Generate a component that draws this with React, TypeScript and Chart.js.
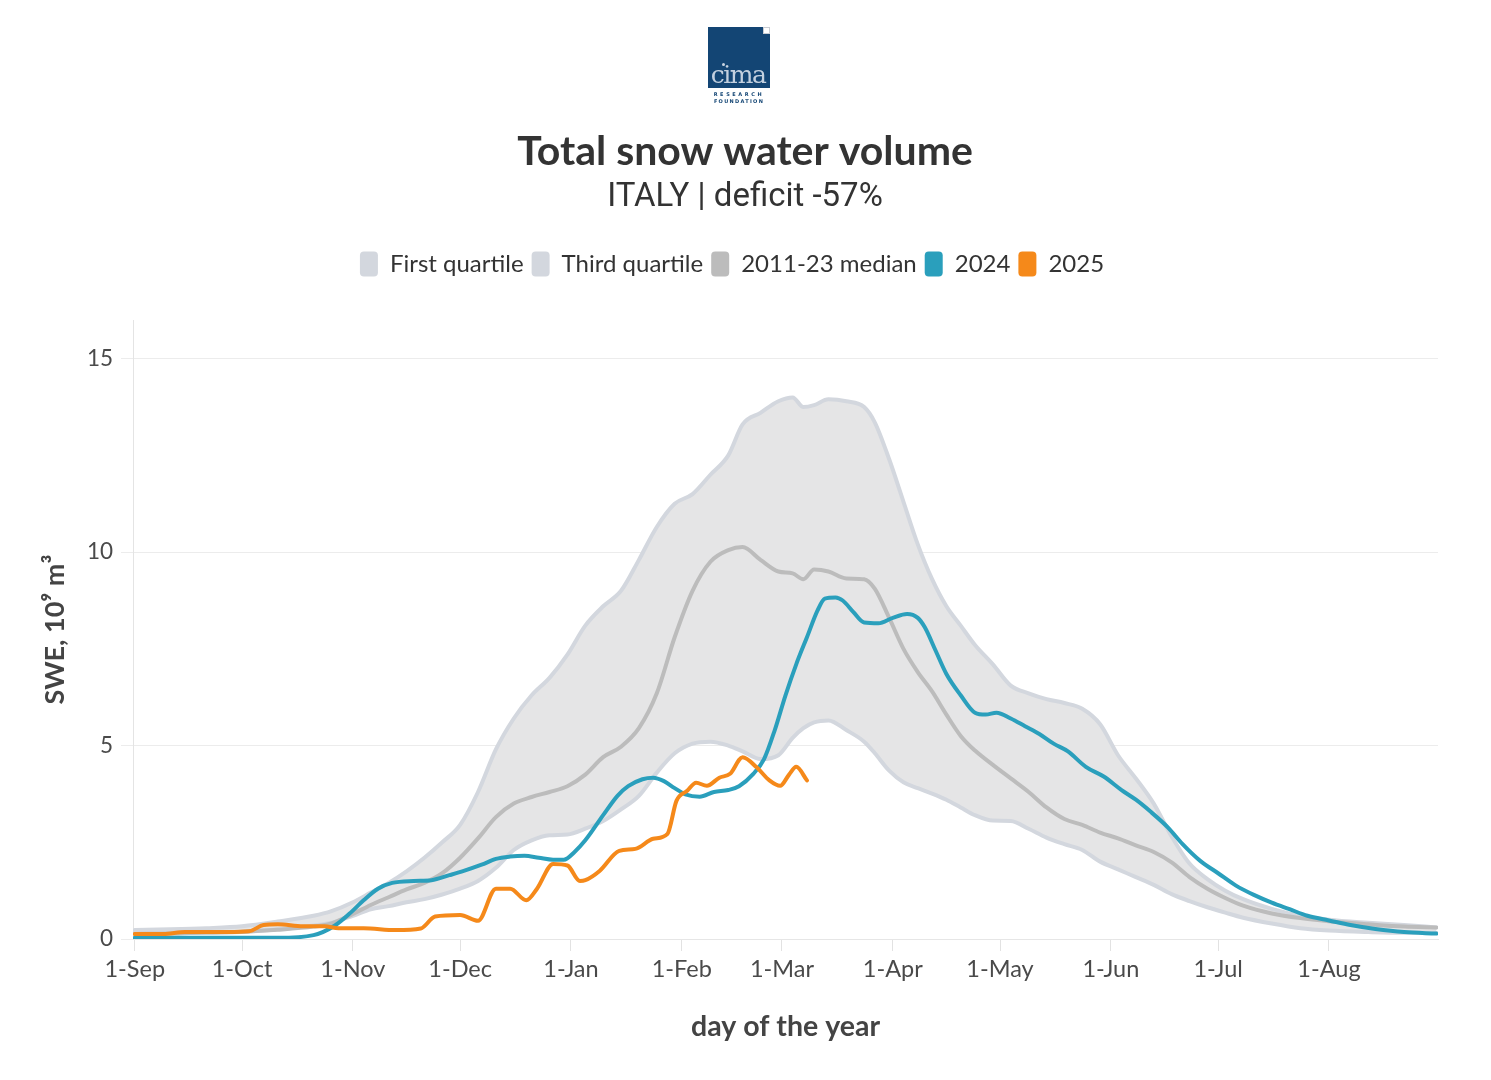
import React, { useEffect, useRef } from "react";
import { Chart, registerables } from "chart.js";

Chart.register(...registerables);

// ---- Data ----
const MONTH_LABELS = ["1-Sep", "1-Oct", "1-Nov", "1-Dec", "1-Jan", "1-Feb", "1-Mar", "1-Apr", "1-May", "1-Jun", "1-Jul", "1-Aug"];
const MONTH_START_DAYS = [0, 30, 61, 91, 122, 153, 181, 212, 242, 273, 303, 334];
const Y_TICKS = [0, 5, 10, 15];

const CLIM_DAYS = [0, 10, 20, 30, 40, 50, 55, 61, 66, 71, 76, 81, 86, 91, 96, 101, 106, 111, 116, 121, 126, 131, 136, 141, 146, 151, 156, 161, 166, 170, 175, 180, 184, 187, 190, 194, 199, 204, 207, 211, 215, 219, 223, 227, 231, 235, 240, 245, 250, 255, 260, 265, 270, 275, 280, 285, 290, 295, 300, 305, 310, 318, 326, 334, 345, 355, 364];

const Q1_VALUES = [0.16, 0.16, 0.16, 0.18, 0.25, 0.35, 0.42, 0.6, 0.77, 0.85, 0.95, 1.03, 1.15, 1.3, 1.5, 1.84, 2.3, 2.55, 2.68, 2.7, 2.85, 3.05, 3.35, 3.7, 4.3, 4.8, 5.05, 5.1, 5.0, 4.85, 4.65, 4.75, 5.2, 5.45, 5.6, 5.65, 5.4, 5.1, 4.8, 4.35, 4.05, 3.9, 3.76, 3.6, 3.4, 3.2, 3.06, 3.05, 2.85, 2.62, 2.45, 2.3, 2.0, 1.8, 1.6, 1.4, 1.16, 0.98, 0.82, 0.68, 0.55, 0.4, 0.28, 0.22, 0.18, 0.16, 0.16];

const Q3_VALUES = [0.23, 0.25, 0.28, 0.33, 0.45, 0.6, 0.72, 0.95, 1.2, 1.45, 1.75, 2.1, 2.5, 2.95, 3.8, 4.9, 5.7, 6.3, 6.75, 7.35, 8.1, 8.6, 9.0, 9.8, 10.65, 11.25, 11.5, 12.0, 12.5, 13.3, 13.6, 13.9, 14.0, 13.75, 13.8, 13.95, 13.9, 13.75, 13.35, 12.4, 11.3, 10.2, 9.3, 8.6, 8.1, 7.6, 7.1, 6.55, 6.35, 6.2, 6.1, 5.95, 5.55, 4.75, 4.15, 3.5, 2.65, 1.95, 1.55, 1.25, 1.03, 0.78, 0.6, 0.5, 0.42, 0.36, 0.3];

const MEDIAN_VALUES = [0.13, 0.14, 0.17, 0.19, 0.24, 0.32, 0.4, 0.65, 0.88, 1.08, 1.28, 1.45, 1.7, 2.1, 2.6, 3.15, 3.5, 3.67, 3.8, 3.95, 4.25, 4.7, 4.97, 5.45, 6.35, 7.8, 9.0, 9.75, 10.05, 10.13, 9.8, 9.5, 9.45, 9.3, 9.55, 9.5, 9.32, 9.3, 9.05, 8.3, 7.5, 6.9, 6.4, 5.8, 5.25, 4.87, 4.5, 4.15, 3.8, 3.4, 3.1, 2.95, 2.75, 2.6, 2.42, 2.25, 1.98, 1.6, 1.3, 1.06, 0.86, 0.66, 0.54, 0.46, 0.38, 0.32, 0.3];

const Y2024_DAYS = [0, 20, 40, 50, 56, 60, 64, 68, 72, 78, 83, 88, 92, 97, 101, 105, 109, 113, 117, 120, 123, 126, 131, 135, 138, 142, 145, 148, 151, 154, 158, 162, 166, 169, 173, 176, 179, 182, 185, 188, 191, 193, 196, 198, 201, 204, 208, 212, 216, 219, 221, 224, 227, 231, 235, 238, 241, 245, 249, 253, 257, 261, 266, 271, 276, 280, 284, 289, 293, 298, 303, 308, 313, 318, 323, 328, 334, 340, 347, 355, 364];
const Y2024_VALUES = [0.03, 0.03, 0.03, 0.1, 0.35, 0.65, 1.0, 1.3, 1.45, 1.5, 1.52, 1.65, 1.76, 1.92, 2.07, 2.13, 2.15, 2.1, 2.05, 2.05, 2.25, 2.55, 3.2, 3.7, 3.95, 4.13, 4.17, 4.08, 3.9, 3.74, 3.68, 3.8, 3.85, 3.95, 4.27, 4.65, 5.4, 6.3, 7.1, 7.8, 8.5, 8.8, 8.83, 8.75, 8.45, 8.18, 8.16, 8.3, 8.4, 8.3, 8.05, 7.45, 6.85, 6.3, 5.85, 5.8, 5.85, 5.7, 5.5, 5.3, 5.05, 4.85, 4.45, 4.2, 3.85, 3.6, 3.3, 2.88, 2.46, 2.02, 1.7, 1.38, 1.14, 0.94, 0.77, 0.6, 0.48, 0.36, 0.26, 0.18, 0.14];

const Y2025_DAYS = [0, 8, 14, 26, 32, 36, 40, 47, 53, 57, 64, 73, 80, 84, 91, 96, 101, 105, 109.5, 112.5, 117, 121, 124.5, 126, 130, 135.5, 140, 145, 149, 151.5, 154.5, 157, 160, 163.5, 166.5, 170, 174, 177.5, 180.5, 183, 185, 188];
const Y2025_VALUES = [0.13, 0.13, 0.18, 0.18, 0.2, 0.36, 0.38, 0.33, 0.33, 0.28, 0.28, 0.23, 0.27, 0.58, 0.62, 0.47, 1.3, 1.3, 1.0, 1.3, 1.94, 1.9, 1.5, 1.52, 1.76, 2.28, 2.33, 2.59, 2.72, 3.57, 3.83, 4.04, 3.96, 4.17, 4.27, 4.7, 4.43, 4.1, 3.96, 4.25, 4.45, 4.1];

const SERIES_NAMES = ["First quartile", "Third quartile", "2011-23 median", "2024", "2025"];
const SERIES_COLORS = ["#d3d7de", "#d3d7de", "#bcbcbc", "#2a9fbc", "#f5891a"];
const LEGEND_COLORS = ["#d3d7de", "#d3d7de", "#bcbcbc", "#2a9fbc", "#f5891a"];
const BAND_FILL = "#e5e5e6";

const toPoints = (xs: number[], ys: number[]) => xs.map((x, i) => ({ x, y: ys[i] }));

const FONT = "Lato, 'Noto Sans', sans-serif";

const legendTweaks = {
  id: "legendTweaks",
  beforeInit(chart: any) {
    const legend = chart.legend;
    if (!legend) return;
    const origFit = legend.fit;
    legend.fit = function () {
      origFit.bind(legend)();
      this.height += 33.5;
    };
  },
  afterLayout(chart: any) {
    const legend = chart.legend;
    if (!legend) return;
    legend.left -= 13;
    legend.right -= 13;
  },
};

function Logo() {
  return (
    <div style={{ position: "absolute", left: 700, top: 19, width: 64, textAlign: "center" }}>
      <div style={{ position: "relative", width: 62, height: 61, background: "#134574" }}>
        <div style={{ position: "absolute", right: 0, top: 0, width: 7, height: 7, background: "#fff", border: "1px solid #c9ccd2", boxSizing: "border-box" }} />
        <div style={{ position: "absolute", left: 14, top: 36, width: 3, height: 3, background: "#c8d4e2", borderRadius: 2 }} />
        <div style={{ position: "absolute", left: -2, right: 0, bottom: 1, fontFamily: "'DejaVu Serif', serif", fontSize: 25, color: "#c3d0df", lineHeight: "24px", letterSpacing: -1.5 }}>cima</div>
      </div>
      <div style={{ fontFamily: "'DejaVu Sans', sans-serif", fontSize: 5, letterSpacing: 2.6, color: "#134574", lineHeight: "7px", marginTop: 3, width: 62, fontWeight: "bold" }}>RESEARCH</div>
      <div style={{ fontFamily: "'DejaVu Sans', sans-serif", fontSize: 5, letterSpacing: 1.3, color: "#134574", lineHeight: "7px", width: 62, fontWeight: "bold" }}>FOUNDATION</div>
    </div>
  );
}

export default function App() {
  const canvasRef = useRef<HTMLCanvasElement>(null);

  useEffect(() => {
    if (!canvasRef.current) return;
    const lineBase = {
      pointRadius: 0,
      pointHoverRadius: 0,
      borderWidth: 4,
      cubicInterpolationMode: "monotone" as const,
      borderCapStyle: "round" as const,
      borderJoinStyle: "round" as const,
    };
    const chart = new Chart(canvasRef.current, {
      type: "line",
      data: {
        datasets: [
          { ...lineBase, label: SERIES_NAMES[0], data: toPoints(CLIM_DAYS, Q1_VALUES), borderColor: SERIES_COLORS[0], fill: false, order: 4 },
          { ...lineBase, label: SERIES_NAMES[1], data: toPoints(CLIM_DAYS, Q3_VALUES), borderColor: SERIES_COLORS[1], backgroundColor: BAND_FILL, fill: { target: 0 }, order: 3 },
          { ...lineBase, label: SERIES_NAMES[2], data: toPoints(CLIM_DAYS, MEDIAN_VALUES), borderColor: SERIES_COLORS[2], fill: false, order: 2 },
          { ...lineBase, label: SERIES_NAMES[3], data: toPoints(Y2024_DAYS, Y2024_VALUES), borderColor: SERIES_COLORS[3], fill: false, order: 1 },
          { ...lineBase, label: SERIES_NAMES[4], data: toPoints(Y2025_DAYS, Y2025_VALUES), borderColor: SERIES_COLORS[4], fill: false, order: 0 },
        ] as any,
      },
      options: {
        animation: false,
        responsive: true,
        maintainAspectRatio: false,
        layout: { padding: { top: 100, left: 44, right: 45, bottom: 0 } },
        interaction: { mode: "nearest", intersect: false },
        plugins: {
          filler: { drawTime: "beforeDatasetsDraw" } as any,
          tooltip: { enabled: false },
          title: {
            display: true,
            text: "Total snow water volume",
            color: "#333333",
            font: { family: FONT, size: 41, weight: "bold" },
            padding: { top: 19.4, bottom: 0 },
          },
          subtitle: {
            display: true,
            text: "ITALY | deficit -57%",
            color: "#333333",
            font: { family: "Roboto, sans-serif", size: 33 },
            padding: { top: 1.6, bottom: 25.7 },
          },
          legend: {
            display: true,
            position: "top",
            labels: {
              color: "#333333",
              font: { family: FONT, size: 24 },
              boxWidth: 18,
              boxHeight: 25,
              padding: 8,
              useBorderRadius: true,
              borderRadius: 4,
              generateLabels: () =>
                SERIES_NAMES.map((name, i) => ({
                  text: name,
                  fillStyle: LEGEND_COLORS[i],
                  strokeStyle: LEGEND_COLORS[i],
                  lineWidth: 0,
                  hidden: false,
                  datasetIndex: i,
                  fontColor: "#333333",
                  borderRadius: 4,
                })),
            } as any,
          },
        },
        scales: {
          x: {
            type: "linear",
            min: -0.5,
            max: 364.5,
            afterBuildTicks: (scale: any) => {
              scale.ticks = MONTH_START_DAYS.map((v) => ({ value: v }));
            },
            afterFit: (scale: any) => {
              scale.height = 133;
            },
            ticks: {
              autoSkip: false,
              maxRotation: 0,
              padding: 4,
              color: "#4a4a4a",
              font: { family: FONT, size: 23.5 },
              callback: (_v: any, i: number) => MONTH_LABELS[i],
            },
            grid: { display: true, drawOnChartArea: false, drawTicks: true, tickLength: 12, color: "#e2e2e2" },
            border: { display: true, color: "#e6e6e6" },
            title: {
              display: true,
              text: "day of the year",
              color: "#444444",
              font: { family: FONT, size: 28.5, weight: "bold" },
              padding: { top: 0, bottom: 28 },
            },
          },
          y: {
            type: "linear",
            min: 0,
            max: 16,
            afterBuildTicks: (scale: any) => {
              scale.ticks = Y_TICKS.map((v) => ({ value: v }));
            },
            afterFit: (scale: any) => {
              scale.width = 81;
            },
            ticks: {
              padding: 8,
              color: "#4a4a4a",
              font: { family: FONT, size: 22.5 },
            },
            grid: { color: "#ececec", lineWidth: 1, tickLength: 12 },
            border: { display: true, color: "#e4e4e4" },
            title: {
              display: true,
              text: "SWE, 10⁹ m³",
              color: "#444444",
              font: { family: FONT, size: 27, weight: "bold" },
              padding: { top: -13, bottom: 0 },
            },
          },
        },
      } as any,
      plugins: [legendTweaks],
    });
    return () => chart.destroy();
  }, []);

  return (
    <div style={{ position: "relative", width: 1475, height: 1064, background: "#ffffff" }}>
      <canvas ref={canvasRef} />
      <Logo />
    </div>
  );
}
